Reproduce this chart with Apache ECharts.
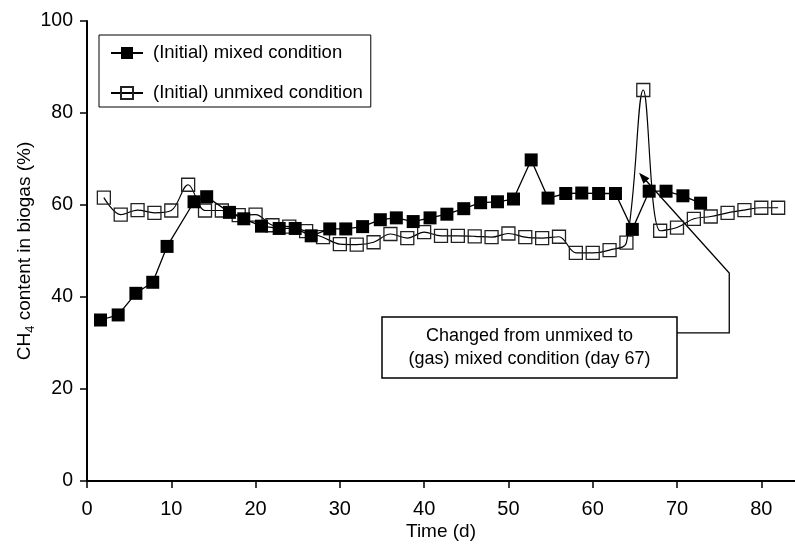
<!DOCTYPE html>
<html>
<head>
<meta charset="utf-8">
<script src="https://cdn.jsdelivr.net/npm/echarts@6/dist/echarts.min.js"></script>
<style>
html,body{margin:0;padding:0;background:#fff;}
#chart{width:795px;height:553px;}
</style>
</head>
<body>
<div id="chart"></div>
<script>
// ---- data ----
const mixedDays = [1.6, 3.7, 5.8, 7.8, 9.5, 12.7, 14.2, 16.9, 18.6, 20.7, 22.8, 24.7, 26.6, 28.8, 30.7, 32.7, 34.8, 36.7, 38.7, 40.7, 42.7, 44.7, 46.7, 48.7, 50.6, 52.7, 54.7, 56.8, 58.7, 60.7, 62.7, 64.7, 66.7, 68.7, 70.7, 72.8];
const mixedCH4 = [35.0, 36.1, 40.8, 43.2, 51.0, 60.7, 61.8, 58.4, 57.0, 55.4, 54.9, 54.9, 53.3, 54.8, 54.8, 55.3, 56.8, 57.2, 56.4, 57.2, 58.0, 59.2, 60.5, 60.7, 61.3, 69.8, 61.5, 62.5, 62.6, 62.5, 62.5, 54.7, 63.0, 63.0, 62.0, 60.4];
const unmixedDays = [2, 4, 6, 8, 10, 12, 14, 16, 18, 20, 22, 24, 26, 28, 30, 32, 34, 36, 38, 40, 42, 44, 46, 48, 50, 52, 54, 56, 58, 60, 62, 64, 66, 68, 70, 72, 74, 76, 78, 80, 82];
const unmixedCH4 = [61.6, 57.9, 58.9, 58.3, 58.8, 64.4, 58.8, 58.8, 57.8, 57.9, 55.6, 55.3, 54.3, 53.0, 51.5, 51.4, 51.9, 53.7, 52.8, 54.1, 53.3, 53.3, 53.2, 53.0, 53.8, 53.0, 52.8, 53.1, 49.6, 49.6, 50.2, 51.8, 85.0, 54.4, 55.1, 57.0, 57.5, 58.3, 58.9, 59.4, 59.4];
const xTicks = [0, 10, 20, 30, 40, 50, 60, 70, 80];
const yTicks = [0, 20, 40, 60, 80, 100];
const seriesNames = ['(Initial) mixed condition', '(Initial) unmixed condition'];
const annotationText = ['Changed from unmixed to', '(gas) mixed condition (day 67)'];
// annotation anchors in data coordinates (day, %)
const annotArrow = [[70.0, 32.2], [76.2, 32.2], [76.2, 45.2], [65.5, 67.0]];
const annotBox = [[35.0, 35.65], [70.0, 22.4]];

const FONT = '"Liberation Sans", Arial, Helvetica, sans-serif';
const zip = (a, b) => a.map((v, i) => [v, b[i]]);

const chart = echarts.init(document.getElementById('chart'), null, {renderer: 'canvas'});
const option = {
  animation: false,
  backgroundColor: '#fff',
  grid: {left: 87, right: 0, top: 21, bottom: 72, containLabel: false},
  legend: {
    orient: 'vertical', left: 99, top: 35,
    padding: [8, 8, 4, 11],
    borderColor: '#000', borderWidth: 1,
    itemWidth: 32, itemHeight: 15, itemGap: 20,
    textStyle: {fontSize: 18.5, fontFamily: FONT, color: '#000', lineHeight: 20, padding: [0, 0, 0, 5]},
    data: seriesNames
  },
  xAxis: [{
    type: 'value', min: 0, max: 84, interval: 10,
    name: 'Time (d)', nameLocation: 'middle', nameGap: 41, nameMoveOverlap: false,
    nameTextStyle: {fontSize: 19, fontFamily: FONT, color: '#000'},
    axisLine: {show: true, onZero: false, lineStyle: {color: '#000', width: 2}},
    axisTick: {show: true, length: 7, lineStyle: {color: '#000', width: 1.5}, customValues: xTicks},
    axisLabel: {fontSize: 20, fontFamily: FONT, color: '#000', margin: 18, customValues: xTicks},
    splitLine: {show: false}
  }, {
    type: 'value', min: 0, max: 84, position: 'top',
    axisLine: {show: true, lineStyle: {color: '#000', width: 2}},
    axisTick: {show: false}, axisLabel: {show: false}, splitLine: {show: false}
  }],
  yAxis: {
    type: 'value', min: 0, max: 100, interval: 20,
    name: '{a|CH}{s|4}{a| content in biogas (%)}',
    nameLocation: 'middle', nameGap: 50, nameMoveOverlap: false,
    nameTextStyle: {
      fontFamily: FONT, color: '#000',
      rich: {
        a: {fontSize: 19, fontFamily: FONT, color: '#000', lineHeight: 25},
        s: {fontSize: 13, fontFamily: FONT, color: '#000', lineHeight: 13, verticalAlign: 'bottom'}
      }
    },
    axisLine: {show: true, lineStyle: {color: '#000', width: 2}},
    axisTick: {show: true, length: 7, lineStyle: {color: '#000', width: 1.5}},
    axisLabel: {fontSize: 19.5, fontFamily: FONT, color: '#000', margin: 14, customValues: yTicks},
    splitLine: {show: false}
  },
  series: [{
    name: seriesNames[1], type: 'line', z: 2,
    data: zip(unmixedDays, unmixedCH4),
    smooth: 0.35,
    symbol: 'rect', symbolSize: 13,
    itemStyle: {color: 'rgba(255,255,255,0)', borderColor: '#222', borderWidth: 1.3},
    lineStyle: {color: '#000', width: 1.2}
  }, {
    name: seriesNames[0], type: 'line', z: 3,
    data: zip(mixedDays, mixedCH4),
    symbol: 'rect', symbolSize: 13,
    itemStyle: {color: '#000'},
    lineStyle: {color: '#000', width: 1.3}
  }]
};
chart.setOption(option);

// annotation built from data-space anchors
const px = p => chart.convertToPixel({xAxisIndex: 0, yAxisIndex: 0}, p);
const arrowPts = annotArrow.map(px);
const b0 = px(annotBox[0]), b1 = px(annotBox[1]);
const tip = arrowPts[arrowPts.length - 1], prev = arrowPts[arrowPts.length - 2];
const dx = tip[0] - prev[0], dy = tip[1] - prev[1], L = Math.hypot(dx, dy);
const ux = dx / L, uy = dy / L, hl = 11, hw = 4;
const base = [tip[0] - ux * hl, tip[1] - uy * hl];
const head = [tip, [base[0] - uy * hw, base[1] + ux * hw], [base[0] + uy * hw, base[1] - ux * hw]];
const shaftEnd = [tip[0] - ux * (hl - 2), tip[1] - uy * (hl - 2)];
const shaft = arrowPts.slice(0, -1).concat([shaftEnd]);

chart.setOption({
  graphic: [
    {type: 'polyline', z: 1, shape: {points: shaft}, style: {stroke: '#000', lineWidth: 1.3, fill: null}},
    {type: 'polygon', z: 1, shape: {points: head}, style: {fill: '#000'}},
    {type: 'rect', z: 10, shape: {x: b0[0], y: b0[1], width: b1[0] - b0[0], height: b1[1] - b0[1]},
     style: {fill: '#fff', stroke: '#000', lineWidth: 1.5}},
    {type: 'text', z: 11, x: (b0[0] + b1[0]) / 2, y: (b0[1] + b1[1]) / 2,
     style: {text: annotationText.join('\n'), fontSize: 18, fontFamily: FONT, fill: '#000',
             align: 'center', verticalAlign: 'middle', lineHeight: 22.6}}
  ]
});
</script>
</body>
</html>
